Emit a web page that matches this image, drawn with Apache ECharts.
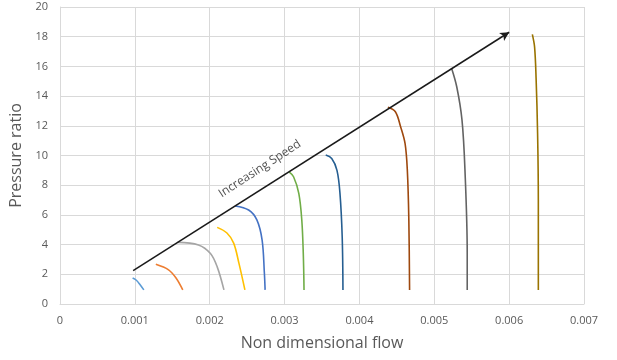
<!DOCTYPE html>
<html>
<head>
<meta charset="utf-8">
<script src="https://cdn.jsdelivr.net/npm/echarts@6/dist/echarts.min.js"></script>
<style>
html,body{margin:0;padding:0;background:#fff;}
#chart{width:617px;height:360px;}
</style>
</head>
<body>
<div id="chart"></div>
<script>
// speed lines: [flow, pressure ratio]
var speed1 = [[0.00097,1.75],[0.00102,1.6],[0.00107,1.3],[0.00112,0.95]];
var speed2 = [[0.00128,2.67],[0.00145,2.3],[0.00155,1.75],[0.00164,0.95]];
var speed3 = [[0.00157,4.15],[0.00185,3.98],[0.00201,3.4],[0.0021,2.5],[0.00219,0.95]];
var speed4 = [[0.0021,5.16],[0.00223,4.78],[0.00232,4.1],[0.00239,2.75],[0.00247,0.95]];
var speed5 = [[0.00234,6.6],[0.00252,6.33],[0.00263,5.66],[0.0027,4.3],[0.00273,2.1],[0.00274,0.95]];
var speed6 = [[0.00306,8.9],[0.00312,8.57],[0.00319,7.45],[0.00323,5.66],[0.00325,3.4],[0.00326,0.95]];
var speed7 = [[0.00355,10.03],[0.00363,9.8],[0.0037,9.0],[0.00374,7.45],[0.00377,4.5],[0.00378,0.95]];
var speed8 = [[0.00438,13.25],[0.00448,12.95],[0.00455,11.94],[0.00461,10.8],[0.00464,9.0],[0.00466,5.66],[0.00467,0.95]];
var speed9 = [[0.00523,15.9],[0.0053,14.63],[0.00537,12.4],[0.00541,9.0],[0.00544,3.4],[0.00544,0.95]];
var speed10 = [[0.00631,18.16],[0.00634,17.3],[0.00636,15.2],[0.00638,11.5],[0.00639,7.0],[0.00639,0.95]];

var speedLines = [speed1,speed2,speed3,speed4,speed5,speed6,speed7,speed8,speed9,speed10];
var colors = ['#5B9BD5','#ED7D31','#A5A5A5','#FFC000','#4472C4','#70AD47','#255E91','#9E480E','#636363','#997300'];

var arrowStart = [0.000977,2.24];
var arrowEnd = [0.006,18.3];
var arrowText = 'Increasing Speed';
var arrowTextAt = [0.00267,9.1];

var xTicks = ['0','0.001','0.002','0.003','0.004','0.005','0.006','0.007'];

var myChart = echarts.init(document.getElementById('chart'));

var series = [];
for (var i = 0; i < speedLines.length; i++) {
	series.push({
		name: 'Speed ' + (i + 1),
		type: 'line',
		data: speedLines[i],
		smooth: 0.35,
		showSymbol: false,
		symbol: 'none',
		lineStyle: {color: colors[i], width: 1.6},
		z: 3
	});
}
// arrow + label
series.push({
	type: 'scatter',
	data: [arrowTextAt],
	symbolSize: 0,
	silent: true,
	label: {
		show: true,
		position: 'inside',
		rotate: 33,
		formatter: arrowText,
		color: '#262626',
		fontSize: 12,
		fontFamily: 'Open Sans'
	},
	markLine: {
		silent: true,
		symbol: ['none','arrow'],
		symbolSize: [7,9],
		label: {show: false},
		lineStyle: {color: '#1a1a1a', width: 1.5, type: 'solid'},
		data: [[{coord: arrowStart}, {coord: arrowEnd}]]
	}
});

var option = {
	animation: false,
	grid: {left: 60, right: 33, top: 7, bottom: 56},
	xAxis: {
		type: 'value',
		min: 0,
		max: 0.007,
		interval: 0.001,
		name: 'Non dimensional flow',
		nameLocation: 'middle',
		nameGap: 31,
		nameTextStyle: {color: '#595959', fontSize: 16, fontFamily: 'Open Sans'},
		axisLine: {lineStyle: {color: '#d9d9d9'}},
		axisTick: {show: false},
		axisLabel: {
			color: '#595959', fontSize: 11, fontFamily: 'Open Sans', margin: 11,
			formatter: function (v) { return xTicks[Math.round(v / 0.001)]; }
		},
		splitLine: {show: true, lineStyle: {color: '#d9d9d9'}}
	},
	yAxis: {
		type: 'value',
		min: 0,
		max: 20,
		interval: 2,
		name: 'Pressure ratio',
		nameLocation: 'middle',
		nameGap: 30,
		nameTextStyle: {color: '#595959', fontSize: 16, fontFamily: 'Open Sans'},
		axisLine: {show: true, lineStyle: {color: '#d9d9d9'}},
		axisTick: {show: false},
		axisLabel: {color: '#595959', fontSize: 11, fontFamily: 'Open Sans', margin: 12},
		splitLine: {show: true, lineStyle: {color: '#d9d9d9'}}
	},
	series: series
};
myChart.setOption(option);
</script>
</body>
</html>
